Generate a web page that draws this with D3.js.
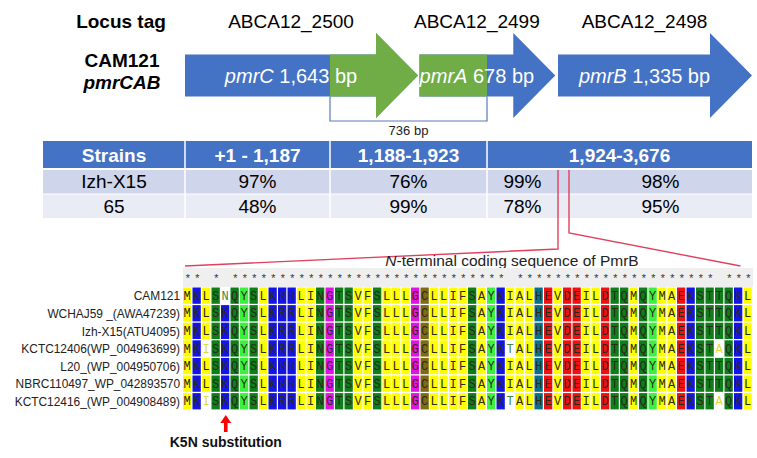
<!DOCTYPE html>
<html><head><meta charset="utf-8">
<script src="https://cdn.jsdelivr.net/npm/d3@7"></script>
<style>body{margin:0;background:#fff;} svg{display:block;}</style>
</head><body>
<svg id="c" width="757" height="458"></svg>
<script>
// ---------- data ----------
const locusTags = ["ABCA12_2500", "ABCA12_2499", "ABCA12_2498"];
const geneNames = ["pmrC", "pmrA", "pmrB"];
const geneStarts = [1, 1649, 2342];
const geneEnds = [1643, 2326, 3676];
const geneLengthLabels = ["1,643 bp", "678 bp", "1,335 bp"];
const regionBounds = [1, 1187, 1923, 3676];
const regionLabels = ["+1 - 1,187", "1,188-1,923", "1,924-3,676"];
const overlapLabel = "736 bp";
const strains = ["Izh-X15", "65"];
const identityRows = [[97, 76, 99, 98], [48, 99, 78, 95]];
const seqNames = ["CAM121", "WCHAJ59 _(AWA47239)", "Izh-X15(ATU4095)", "KCTC12406(WP_004963699)",
  "L20_(WP_004950706)", "NBRC110497_WP_042893570", "KCTC12416_(WP_004908489)"];
const sequences = [
  "MKLSNQYSLKRRLINGTSVFSLLLGCLLIFSAYKIALHEVDEILDTQMQYMAEKSTTQKL",
  "MKLSKQYSLKRRLINGTSVFSLLLGCLLIFSAYKIALHEVDEILDTQMQYMAEKSTTQKL",
  "MKLSKQYSLKRRLINGTSVFSLLLGCLLIFSAYKIALHEVDEILDTQMQYMAEKSTTQKL",
  "MKISKQYSLKRRLINGTSVFSLLLGCLLIFSAYKTALHEVDEILDTQMQYMAEKSTAQKL",
  "MKLSKQYSLKRRLINGTSVFSLLLGCLLIFSAYKIALHEVDEILDTQMQYMAEKSTTQKL",
  "MKLSKQYSLKRRLINGTSVFSLLLGCLLIFSAYKIALHEVDEILDTQMQYMAEKSTTQKL",
  "MKISKQYSLKRRLINGTSVFSLLLGCLLIFSAYKTALHEVDEILDTQMQYMAEKSTAQKL"
];
const mutationLabel = "K5N substitution";
const mutationColumn = 5;

// ---------- styles ----------
const BLUE = "#4472c4", GREEN = "#70ad47";
const resColor = r => ({
  A:"#ffff00",I:"#ffff00",L:"#ffff00",M:"#ffff00",F:"#ffff00",V:"#ffff00",W:"#ffff00",
  K:"#1414e6",R:"#1414e6",D:"#ee1111",E:"#ee1111",
  S:"#0f7d1a",T:"#0f7d1a",N:"#0f7d1a",Q:"#0f7d1a",
  Y:"#3ef03e",G:"#e014e0",C:"#7d6c14",H:"#087088",P:"#ffcc00"
})[r] || "#ffffff";

const svg = d3.select("#c");
const SANS = "'Liberation Sans', Arial, sans-serif";

// ---------- schematic scale ----------
const domain = [regionBounds[0], regionBounds[1], geneEnds[0], regionBounds[2], geneStarts[2], regionBounds[3]];
const x = d3.scaleLinear().domain(domain).range([185, 330, 418, 487, 558, 752]);

const yC = 75.5, bodyH = 42, headH = 85, headL = 42;
function arrowPts(x0, x1) {
  return [[x0, yC - bodyH/2], [x1 - headL, yC - bodyH/2], [x1 - headL, yC - headH/2], [x1, yC],
          [x1 - headL, yC + headH/2], [x1 - headL, yC + bodyH/2], [x0, yC + bodyH/2]];
}
const genes = geneNames.map((g, i) => ({name: g, start: geneStarts[i], end: geneEnds[i], len: geneLengthLabels[i], tag: locusTags[i]}));

svg.append("clipPath").attr("id", "gclip").append("rect")
  .attr("x", x(regionBounds[1])).attr("y", 0)
  .attr("width", x(regionBounds[2]) - x(regionBounds[1])).attr("height", 200);

const line = d3.line();
const gg = svg.append("g");
gg.selectAll("path.blue").data(genes).join("path")
  .attr("d", d => line(arrowPts(x(d.start), x(d.end))) + "Z").attr("fill", BLUE);
gg.selectAll("path.green").data(genes).join("path")
  .attr("clip-path", "url(#gclip)")
  .attr("d", d => line(arrowPts(x(d.start), x(d.end))) + "Z").attr("fill", GREEN);

const labelX = d => (x(d.start) + x(d.end) - headL / 2) / 2;
const gl = gg.selectAll("text.glabel").data(genes).join("text")
  .attr("x", labelX).attr("y", 82.5).attr("text-anchor", "middle")
  .attr("font-family", SANS).attr("font-size", 20).attr("fill", "#fff");
gl.append("tspan").attr("font-style", "italic").text(d => d.name);
gl.append("tspan").text(d => " " + d.len);

svg.selectAll("text.tag").data(genes).join("text")
  .attr("x", labelX).attr("y", 28).attr("text-anchor", "middle")
  .attr("font-family", SANS).attr("font-size", 19).attr("fill", "#000").text(d => d.tag);

svg.append("text").attr("x", 121).attr("y", 28).attr("text-anchor", "middle")
  .attr("font-family", SANS).attr("font-size", 19).attr("font-weight", "bold").text("Locus tag");
svg.append("text").attr("x", 122).attr("y", 67).attr("text-anchor", "middle")
  .attr("font-family", SANS).attr("font-size", 19).attr("font-weight", "bold").text("CAM121");
svg.append("text").attr("x", 122).attr("y", 89).attr("text-anchor", "middle")
  .attr("font-family", SANS).attr("font-size", 19).attr("font-weight", "bold").attr("font-style", "italic").text("pmrCAB");

// bracket 736 bp
const bx0 = x(regionBounds[1]), bx1 = x(regionBounds[2]);
svg.append("path").attr("d", `M${bx0},${yC + bodyH/2}V121H${bx1}V${yC + bodyH/2}`)
  .attr("fill", "none").attr("stroke", "#5b7bb6").attr("stroke-width", 1.2);
svg.append("text").attr("x", (bx0 + bx1) / 2).attr("y", 135).attr("text-anchor", "middle")
  .attr("font-family", SANS).attr("font-size", 13).attr("fill", "#222").text(overlapLabel);

// ---------- table ----------
const tX0 = 43, colB = [tX0, x(regionBounds[0]), x(regionBounds[1]), x(regionBounds[2]), x(regionBounds[3])];
const hdrY = 141, hdrH = 27, rowY0 = 170, rowH = 24.5;
const splitX = x(geneStarts[2]), redGap = 11;
svg.append("rect").attr("x", tX0).attr("y", hdrY).attr("width", colB[4] - tX0).attr("height", hdrH).attr("fill", BLUE);
const hdrs = ["Strains"].concat(regionLabels);
svg.selectAll("text.hdr").data(hdrs).join("text")
  .attr("x", (d, i) => (colB[i] + colB[i + 1]) / 2).attr("y", hdrY + 20.5).attr("text-anchor", "middle")
  .attr("font-family", SANS).attr("font-size", 19).attr("font-weight", "bold").attr("fill", "#fff").text(d => d);
const rowFills = ["#cfd5ea", "#e9ebf5"];
strains.forEach((s, r) => {
  const y0 = rowY0 + r * rowH;
  svg.append("rect").attr("x", tX0).attr("y", y0).attr("width", colB[4] - tX0).attr("height", rowH - 1).attr("fill", rowFills[r]);
  const centers = [(colB[0] + colB[1]) / 2, (colB[1] + colB[2]) / 2, (colB[2] + colB[3]) / 2,
                   (colB[3] + splitX) / 2, (splitX + redGap + colB[4]) / 2];
  const vals = [s].concat(identityRows[r].map(v => v + "%"));
  svg.selectAll(null).data(vals).join("text")
    .attr("x", (d, i) => centers[i]).attr("y", y0 + 18).attr("text-anchor", "middle")
    .attr("font-family", SANS).attr("font-size", 19).attr("fill", "#000").text(d => d);
});
svg.selectAll("line.div").data(colB.slice(1, 4)).join("line")
  .attr("x1", d => d).attr("x2", d => d).attr("y1", hdrY).attr("y2", rowY0 + strains.length * rowH)
  .attr("stroke", "#fff").attr("stroke-width", 1.5);

// ---------- alignment ----------
const nCol = sequences[0].length;
const cx = d3.scaleBand().domain(d3.range(nCol)).range([183, 753]);
const ry = d3.scaleBand().domain(seqNames).range([287.5, 410.7]);
const consensus = d3.range(nCol).map(c => {
  const counts = d3.rollup(sequences, v => v.length, s => s[c]);
  return d3.greatest(counts, d => d[1])[0];
});
const conserved = d3.range(nCol).map(c => sequences.every(s => s[c] === sequences[0][c]));

// red zoom lines
const RED = "#e2405c";
svg.append("path").attr("d", `M${splitX},${rowY0}V249L${cx(0) + 2},266`)
  .attr("fill", "none").attr("stroke", RED).attr("stroke-width", 1.4);
svg.append("path").attr("d", `M${splitX + redGap},${rowY0}V233L${cx(nCol - 1) - 3},266`)
  .attr("fill", "none").attr("stroke", RED).attr("stroke-width", 1.4);

const title = svg.append("text").attr("x", 512).attr("y", 266).attr("text-anchor", "middle")
  .attr("font-family", SANS).attr("font-size", 15.5).attr("fill", "#222");
title.append("tspan").attr("font-style", "italic").text("N");
title.append("tspan").text("-terminal coding sequence of PmrB");

svg.append("rect").attr("x", cx(0)).attr("y", 268).attr("width", cx.range()[1] - cx(0)).attr("height", 19).attr("fill", "#efefef");
svg.selectAll("text.star").data(d3.range(nCol).filter(c => conserved[c])).join("text")
  .attr("x", c => cx(c) + cx.bandwidth() / 2).attr("y", 282).attr("text-anchor", "middle")
  .attr("font-family", "'Liberation Mono', monospace").attr("font-size", 11).attr("fill", "#333").text("*");

const cells = [];
sequences.forEach((s, r) => s.split("").forEach((res, c) => cells.push({r: seqNames[r], c, res, match: res === consensus[c]})));
const ag = svg.append("g");
ag.selectAll("rect").data(cells).join("rect")
  .attr("x", d => cx(d.c)).attr("y", d => ry(d.r))
  .attr("width", cx.bandwidth() - 1.2).attr("height", ry.bandwidth() - 1.3)
  .attr("fill", d => d.match ? resColor(d.res) : "#ffffff");
ag.selectAll("text").data(cells).join("text")
  .attr("x", d => cx(d.c) + cx.bandwidth() / 2 - 0.6).attr("y", d => ry(d.r) + ry.bandwidth() / 2 + 3.5)
  .attr("text-anchor", "middle").attr("font-family", "'Liberation Mono', 'Courier New', monospace")
  .attr("font-size", 12)
  .attr("fill", d => d.match ? "#2a2a1a" : d3.interpolateRgb(resColor(d.res), "#999")(0.35))
  .text(d => d.res);

svg.selectAll("text.sname").data(seqNames).join("text")
  .attr("x", 180).attr("y", d => ry(d) + ry.bandwidth() / 2 + 4).attr("text-anchor", "end")
  .attr("font-family", SANS).attr("font-size", 11.9).attr("fill", "#222").text(d => d);

// mutation arrow
const mx = cx(mutationColumn - 1) + cx.bandwidth() / 2;
svg.append("path").attr("d", `M${mx},415L${mx + 5.5},423H${mx + 1.8}V432H${mx - 1.8}V423H${mx - 5.5}Z`).attr("fill", "#ff0000");
svg.append("text").attr("x", mx).attr("y", 447).attr("text-anchor", "middle")
  .attr("font-family", SANS).attr("font-size", 14).attr("font-weight", "bold").attr("fill", "#111").text(mutationLabel);
</script>
</body></html>
